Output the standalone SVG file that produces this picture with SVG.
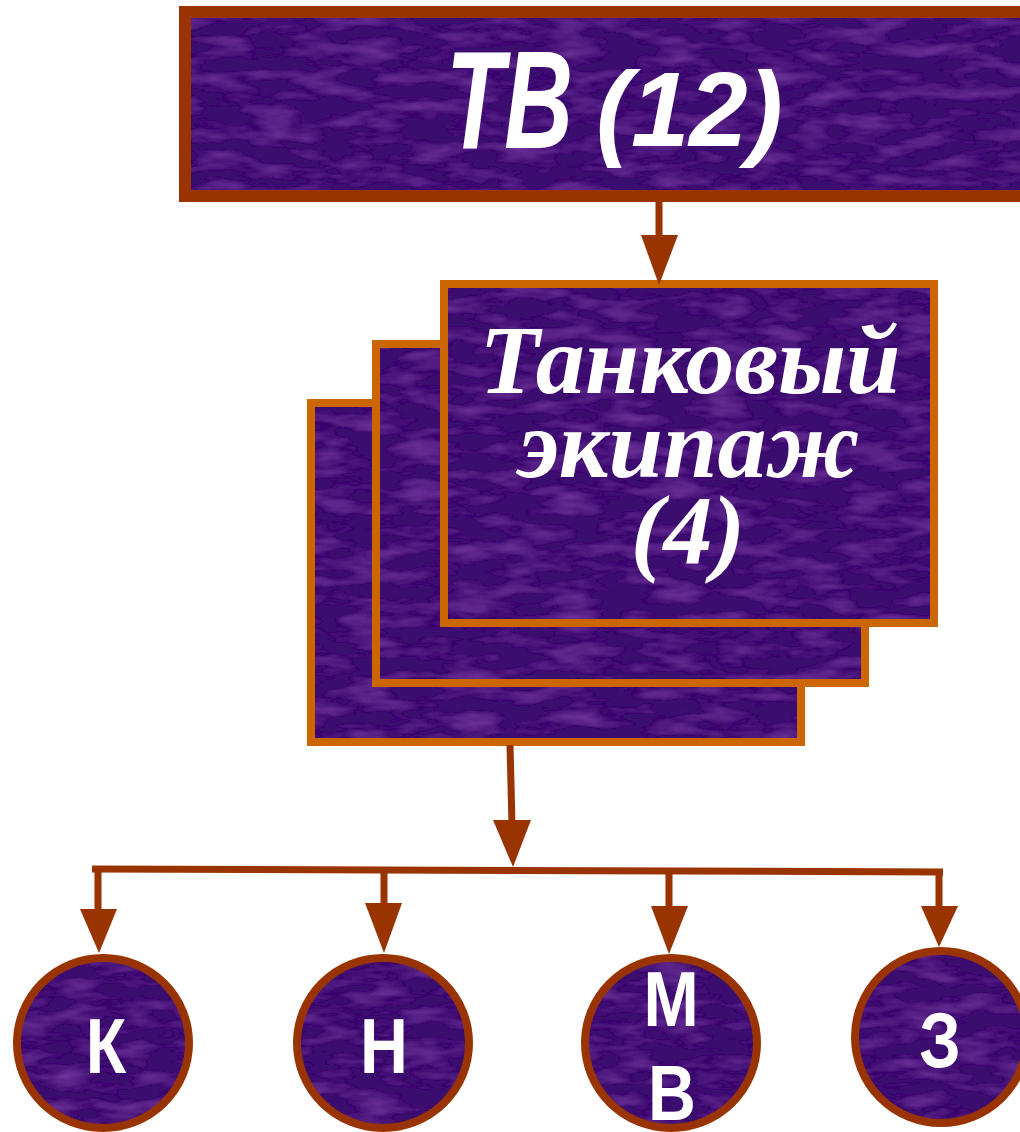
<svg xmlns="http://www.w3.org/2000/svg" width="1020" height="1132" viewBox="0 0 1020 1132">
<style>
.bg{fill:#3a0c6e}
.tb{stroke:#993300;stroke-width:12}
.card{stroke:#CC6600;stroke-width:8}
.circ{stroke:#993300;stroke-width:8}
.lbl{fill:#ffffff;font-family:"Liberation Sans",Arial,sans-serif;font-weight:bold}
.ser{fill:#ffffff;font-family:"Liberation Serif","Times New Roman",serif;font-weight:bold;font-style:italic;font-size:98px}
.ln{stroke:#993300;stroke-width:7;fill:none}
.ah{fill:#993300}
</style>
<defs>
<filter id="tex" x="0" y="0" width="1" height="1">
<feTurbulence type="fractalNoise" baseFrequency="0.02 0.07" numOctaves="3" seed="5" result="n"/>
<feColorMatrix in="n" type="matrix" values="0 0 0 0 0.3  0 0 0 0 0.07  0 0 0 0 0.55  0 0 0 0.9 -0.4" result="c"/>
<feComposite in="c" in2="SourceGraphic" operator="in" result="m"/>
<feMerge><feMergeNode in="SourceGraphic"/><feMergeNode in="m"/></feMerge>
</filter>
</defs>
<rect width="1020" height="1132" fill="#ffffff"/>

<g id="platoon">
<rect class="bg" x="185" y="12" width="850" height="184" filter="url(#tex)"/>
<rect class="tb" x="185" y="12" width="850" height="184" fill="none"/>
<text class="lbl" font-style="italic" font-size="140" transform="translate(446,148) scale(0.68,1)">ТВ</text>
<text class="lbl" font-style="italic" font-size="105" x="596" y="146">(12)</text>
</g>

<g id="crew">
<rect class="bg" x="311" y="403" width="490" height="339" filter="url(#tex)"/>
<rect class="card" x="311" y="403" width="490" height="339" fill="none"/>
<rect class="bg" x="376" y="344" width="489" height="339" filter="url(#tex)"/>
<rect class="card" x="376" y="344" width="489" height="339" fill="none"/>
<rect class="bg" x="444" y="284" width="490" height="339" filter="url(#tex)"/>
<rect class="card" x="444" y="284" width="490" height="339" fill="none"/>
<text class="ser" text-anchor="middle" x="690" y="393">Танковый</text>
<text class="ser" text-anchor="middle" x="689" y="477">экипаж</text>
<text class="ser" text-anchor="middle" x="688" y="563">(4)</text>
</g>

<g id="connectors">
<line class="ln" x1="659" y1="202" x2="659" y2="240"/>
<polygon class="ah" points="641,235 678,235 659,285"/>
<line class="ln" x1="510" y1="745" x2="512" y2="825"/>
<polygon class="ah" points="493,820 531,820 513,867"/>
<line class="ln" x1="92" y1="869" x2="943" y2="872"/>
<line class="ln" x1="98" y1="869" x2="98" y2="912"/>
<polygon class="ah" points="80,909 117,909 99,953"/>
<line class="ln" x1="384" y1="870" x2="384" y2="906"/>
<polygon class="ah" points="365,903 402,903 384,953"/>
<line class="ln" x1="669" y1="871" x2="669" y2="909"/>
<polygon class="ah" points="651,906 688,906 669,954"/>
<line class="ln" x1="939" y1="872" x2="939" y2="909"/>
<polygon class="ah" points="921,906 958,906 939,947"/>
</g>

<g id="node-k">
<ellipse class="bg" cx="103" cy="1043" rx="86" ry="85" filter="url(#tex)"/>
<ellipse class="circ" cx="103" cy="1043" rx="86" ry="85" fill="none"/>
<text class="lbl" font-size="78" text-anchor="middle" transform="translate(106,1073) scale(0.85,1)">К</text>
</g>
<g id="node-n">
<ellipse class="bg" cx="383" cy="1043" rx="86" ry="85" filter="url(#tex)"/>
<ellipse class="circ" cx="383" cy="1043" rx="86" ry="85" fill="none"/>
<text class="lbl" font-size="78" text-anchor="middle" transform="translate(384,1073) scale(0.85,1)">Н</text>
</g>
<g id="node-mv">
<ellipse class="bg" cx="671" cy="1043" rx="86" ry="85" filter="url(#tex)"/>
<ellipse class="circ" cx="671" cy="1043" rx="86" ry="85" fill="none"/>
<text class="lbl" font-size="78" text-anchor="middle" transform="translate(671,1026) scale(0.85,1)">М</text>
<text class="lbl" font-size="78" text-anchor="middle" transform="translate(672,1120) scale(0.85,1)">В</text>
</g>
<g id="node-z">
<ellipse class="bg" cx="941" cy="1037" rx="86" ry="86" filter="url(#tex)"/>
<ellipse class="circ" cx="941" cy="1037" rx="86" ry="86" fill="none"/>
<text class="lbl" font-size="78" text-anchor="middle" transform="translate(940,1067) scale(0.85,1)">З</text>
</g>
</svg>
